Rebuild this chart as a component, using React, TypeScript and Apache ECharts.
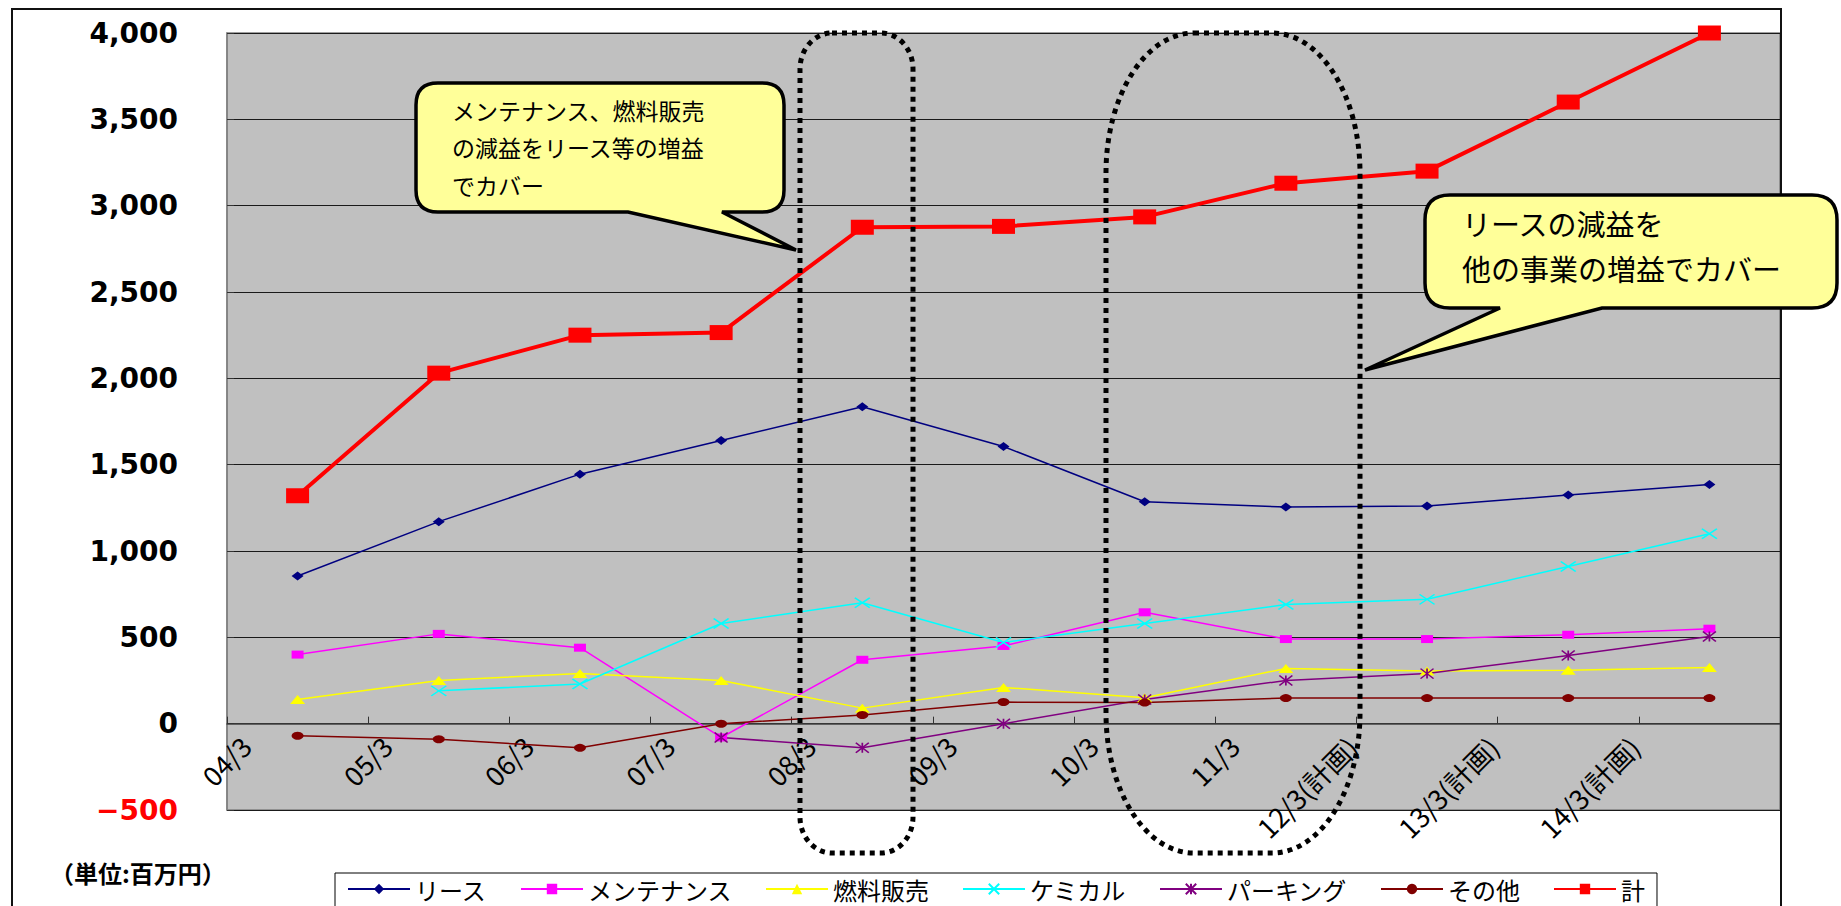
import React, { useEffect, useRef } from "react";
import * as echarts from "echarts";

const categories = ["04/3", "05/3", "06/3", "07/3", "08/3", "09/3", "10/3", "11/3", "12/3(計画)", "13/3(計画)", "14/3(計画)"];
const seriesNames = ["リース", "メンテナンス", "燃料販売", "ケミカル", "パーキング", "その他", "計"];
const lease = [855, 1170, 1445, 1640, 1835, 1605, 1285, 1255, 1260, 1325, 1385];
const maintenance = [400, 520, 440, -80, 370, 450, 645, 490, 490, 515, 550];
const fuel = [140, 250, 290, 250, 90, 210, 150, 320, 305, 310, 325];
const chemical = [null, 190, 230, 580, 700, 470, 580, 690, 720, 910, 1100];
const parking = [null, null, null, -80, -140, 0, 140, 250, 290, 395, 505];
const other = [-70, -90, -140, 0, 50, 125, 122, 148, 148, 148, 148];
const total = [1320, 2030, 2250, 2265, 2875, 2880, 2935, 3130, 3200, 3600, 4000];

const callout1Text = "メンテナンス、燃料販売\nの減益をリース等の増益\nでカバー";
const callout2Text = "リースの減益を\n他の事業の増益でカバー";
const unitText = "（単位:百万円）";

const JP = '"Noto Sans CJK JP", "Noto Sans", sans-serif';

function roundRectPath(x: number, y: number, w: number, h: number, rx: number, ry: number) {
  const k = 0.5523;
  const R = x + w, B = y + h;
  return `M${x + rx},${y} L${R - rx},${y} C${R - rx + rx * k},${y} ${R},${y + ry - ry * k} ${R},${y + ry} L${R},${B - ry} C${R},${B - ry + ry * k} ${R - rx + rx * k},${B} ${R - rx},${B} L${x + rx},${B} C${x + rx - rx * k},${B} ${x},${B - ry + ry * k} ${x},${B - ry} L${x},${y + ry} C${x},${y + ry - ry * k} ${x + rx - rx * k},${y} ${x + rx},${y} Z`;
}

function calloutPath(L: number, T: number, R: number, B: number, r: number, bx1: number, bx2: number, tx: number, ty: number) {
  return `M${L + r},${T} L${R - r},${T} Q${R},${T} ${R},${T + r} L${R},${B - r} Q${R},${B} ${R - r},${B} L${bx2},${B} L${tx},${ty} L${bx1},${B} L${L + r},${B} Q${L},${B} ${L},${B - r} L${L},${T + r} Q${L},${T} ${L + r},${T} Z`;
}

let registered = false;
function registerShapes() {
  if (registered) return;
  registered = true;
  echarts.graphic.registerShape("dotted1", echarts.graphic.extendPath(roundRectPath(800, 33, 113, 820, 32, 36), {}));
  echarts.graphic.registerShape("dotted2", echarts.graphic.extendPath(roundRectPath(1106, 33, 254, 820, 88, 140), {}));
  echarts.graphic.registerShape("callout1", echarts.graphic.extendPath(calloutPath(416, 83, 784, 212, 22, 628, 722, 796, 250), {}));
  echarts.graphic.registerShape("callout2", echarts.graphic.extendPath(calloutPath(1425, 195, 1837, 308, 25, 1500, 1602, 1365, 370), {}));
}

function fmt(v: number) {
  return String(v).replace(/\B(?=(\d{3})+(?!\d))/g, ",");
}

export default function App() {
  const ref = useRef<HTMLDivElement>(null);
  useEffect(() => {
    document.body.style.margin = "0";
    document.body.style.overflow = "hidden";
    registerShapes();
    const chart = echarts.init(ref.current!, null, { renderer: "svg" });
    const yLabelFont = { fontFamily: "DejaVu Sans", fontWeight: "bold" as const, fontSize: 28 };
    const lineSeries = (name: string, data: any[], color: string, symbol: string, size: number[], width = 1.5, stroke = false) => ({
      name,
      type: "line",
      data,
      symbol,
      symbolSize: size,
      xAxisIndex: 0,
      yAxisIndex: 0,
      lineStyle: { color, width },
      itemStyle: stroke
        ? { color, borderColor: color, borderWidth: 1.5 }
        : { color, borderWidth: 0 },
      emphasis: { disabled: true },
    });
    const xLabel = { interval: 0, rotate: 45, margin: 8, fontSize: 27, color: "#000", fontFamily: JP };
    const option: any = {
      animation: false,
      textStyle: { fontFamily: JP },
      grid: [
        { left: 227, right: 61, top: 33, bottom: 96, show: true, backgroundColor: "#c0c0c0", borderColor: "#808080", borderWidth: 1.5, outerBoundsMode: "none" },
        { left: 175, width: 1553, top: 600, bottom: 173, outerBoundsMode: "none" },
        { left: 152, width: 1553, top: 600, bottom: 172, outerBoundsMode: "none" },
      ],
      xAxis: [
        {
          gridIndex: 0, type: "category", data: categories, boundaryGap: true,
          axisLine: { onZero: true, lineStyle: { color: "#404040", width: 1.5 } },
          axisTick: { show: true, inside: true, length: 7, lineStyle: { color: "#333" } },
          axisLabel: { show: false }, splitLine: { show: false },
        },
        {
          gridIndex: 1, type: "category", data: categories, boundaryGap: true,
          axisLine: { show: false }, axisTick: { show: false }, splitLine: { show: false },
          axisLabel: { ...xLabel, formatter: (v: string, i: number) => (i < 8 ? v : "") },
        },
        {
          gridIndex: 2, type: "category", data: categories, boundaryGap: true,
          axisLine: { show: false }, axisTick: { show: false }, splitLine: { show: false },
          axisLabel: { ...xLabel, formatter: (v: string, i: number) => (i >= 8 ? v : "") },
        },
      ],
      yAxis: [
        {
          gridIndex: 0, type: "value", min: -500, max: 4000, interval: 500,
          axisLine: { show: true, lineStyle: { color: "#808080", width: 1.5 } },
          axisTick: { show: true, inside: true, length: 7, lineStyle: { color: "#333" } },
          splitLine: { show: true, lineStyle: { color: "#1a1a1a", width: 1 } },
          axisLabel: {
            margin: 49, color: "#000", ...yLabelFont,
            formatter: (v: number) => (v < 0 ? `{neg|−${fmt(-v)}}` : fmt(v)),
            rich: { neg: { color: "#ff0000", ...yLabelFont } },
          },
        },
        { gridIndex: 1, type: "value", show: false, min: 0, max: 1 },
        { gridIndex: 2, type: "value", show: false, min: 0, max: 1 },
      ],
      legend: {
        data: seriesNames,
        left: 335, top: 873, orient: "horizontal",
        itemWidth: 62, itemHeight: 13, itemGap: 33,
        padding: [2, 12, 34, 12],
        backgroundColor: "#fff", borderColor: "#000", borderWidth: 1,
        textStyle: { fontSize: 24, lineHeight: 28, color: "#000", fontFamily: JP },
        selectedMode: false,
      },
      series: [
        lineSeries(seriesNames[0], lease, "#000080", "diamond", [12, 9]),
        lineSeries(seriesNames[1], maintenance, "#ff00ff", "rect", [12, 8]),
        lineSeries(seriesNames[2], fuel, "#ffff00", "triangle", [15, 9]),
        lineSeries(seriesNames[3], chemical, "#00ffff", "path://M0,0L15,10M15,0L0,10", [15, 10], 1.5, true),
        lineSeries(seriesNames[4], parking, "#800080", "path://M0,0L13,10M13,0L0,10M6.5,0L6.5,10", [13, 10], 1.5, true),
        lineSeries(seriesNames[5], other, "#800000", "circle", [12, 8]),
        lineSeries(seriesNames[6], total, "#ff0000", "rect", [23, 15], 4),
      ],
      graphic: [
        { type: "rect", shape: { x: 12, y: 9, width: 1769, height: 1000 }, style: { fill: "none", stroke: "#111", lineWidth: 2 }, z: 50, silent: true },
        { type: "dotted1", style: { fill: "none", stroke: "#000", lineWidth: 5, lineDash: [5, 5] }, z: 100, silent: true },
        { type: "dotted2", style: { fill: "none", stroke: "#000", lineWidth: 5, lineDash: [5, 5] }, z: 100, silent: true },
        { type: "callout1", style: { fill: "#ffff99", stroke: "#000", lineWidth: 3.5 }, z: 101, silent: true },
        { type: "callout2", style: { fill: "#ffff99", stroke: "#000", lineWidth: 3.5 }, z: 101, silent: true },
        {
          type: "text", x: 452, y: 91, z: 102, silent: true,
          style: { text: callout1Text, fontSize: 23, fontFamily: JP, lineHeight: 37.5, fill: "#000", verticalAlign: "top", align: "left" },
        },
        {
          type: "text", x: 1462, y: 200, z: 102, silent: true,
          style: { text: callout2Text, fontSize: 29, fontFamily: JP, lineHeight: 45, fill: "#000", verticalAlign: "top", align: "left" },
        },
        {
          type: "text", x: 50, y: 872, z: 102, silent: true,
          style: { text: unitText, fontSize: 24, fontWeight: "bold", fontFamily: JP, fill: "#000", verticalAlign: "middle", align: "left" },
        },
      ],
    };
    chart.setOption(option);
    return () => chart.dispose();
  }, []);
  return <div ref={ref} style={{ width: 1841, height: 906 }} />;
}
